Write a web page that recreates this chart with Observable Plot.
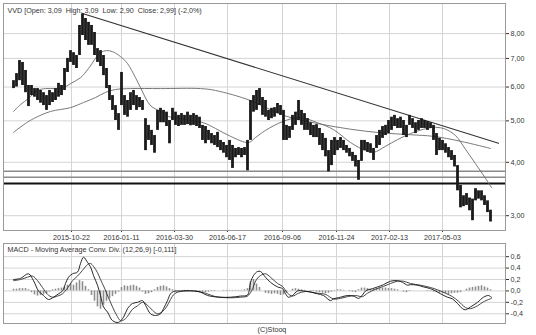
<!DOCTYPE html>
<html><head><meta charset="utf-8">
<script src="https://cdn.jsdelivr.net/npm/d3@7"></script>
<script src="https://cdn.jsdelivr.net/npm/@observablehq/plot@0.6"></script>
<style>
body{margin:0;background:#fff;font-family:"Liberation Sans",Arial,sans-serif}
#wrap{position:relative;width:536px;height:335px;overflow:hidden}
#main,#macd{position:absolute;left:0}
#main{top:0}
#macd{top:240px}
#copy{position:absolute;left:0;width:544px;text-align:center;top:325px;font-size:7.2px;color:#333}
</style></head><body>
<div id="wrap"><div id="main"></div><div id="macd"></div><div id="copy">(C)Stooq</div></div>
<script>
// trading-day index of the first bar and bar spacing (3 trading days per bar)
const T0 = 10, STEP = 3;
const hi = [6.21,6.45,6.92,6.85,6.56,6.05,6.05,5.95,5.95,5.89,5.82,5.73,5.89,5.82,5.95,6.12,6.05,6.63,7.00,7.30,
7.22,7.11,8.36,8.90,8.68,8.50,8.36,8.05,7.38,7.30,7.11,6.63,6.05,5.73,5.43,5.20,6.49,5.73,5.58,5.82,
5.89,5.73,5.67,5.58,5.06,4.88,4.75,4.62,5.29,5.35,5.29,5.24,5.01,5.35,5.24,5.15,5.20,5.15,5.24,5.15,
5.20,5.15,5.10,4.88,4.85,4.75,4.67,4.62,4.70,4.50,4.45,4.38,4.50,4.38,4.31,4.33,4.31,4.33,4.50,5.58,
5.73,5.89,5.95,5.67,5.58,5.29,5.35,5.37,5.49,5.43,5.29,4.88,4.85,5.15,5.24,5.58,5.29,5.20,5.06,4.95,
4.88,4.90,4.80,4.67,4.55,4.26,4.50,4.57,4.50,4.57,4.50,4.38,4.31,4.22,4.15,4.04,4.50,4.50,4.45,4.42,
4.31,4.62,4.75,4.85,4.88,5.01,5.10,5.15,5.06,5.10,5.01,4.88,5.15,5.06,4.95,5.01,5.06,5.01,4.98,4.95,
4.88,4.67,4.55,4.50,4.42,4.33,4.26,4.15,3.93,3.53,3.34,3.38,3.30,3.28,3.47,3.43,3.43,3.34,3.25,3.09];
const lo = [5.95,6.00,6.21,6.05,5.82,5.40,5.73,5.68,5.58,5.50,5.43,5.29,5.43,5.52,5.58,5.68,5.73,5.89,6.49,6.85,
6.74,6.63,7.11,7.92,7.71,7.51,7.51,7.11,6.85,6.70,6.38,5.95,5.58,5.29,5.01,4.75,5.43,5.15,5.10,5.29,
5.43,5.29,5.37,5.29,4.26,4.50,4.38,4.20,4.75,4.95,4.95,4.85,4.42,5.01,4.88,4.85,4.88,4.88,4.90,4.87,
4.88,4.85,4.80,4.50,4.42,4.50,4.42,4.38,4.33,4.26,4.20,4.10,4.04,3.87,4.10,4.15,4.10,4.15,3.82,4.50,
5.24,5.29,5.43,5.15,5.10,5.01,5.06,5.10,5.20,5.15,4.50,4.50,4.55,4.75,4.88,5.01,4.88,4.75,4.75,4.62,
4.57,4.57,4.38,4.26,4.12,3.80,3.93,4.15,4.26,4.31,4.26,4.20,4.12,4.02,3.90,3.63,4.02,4.26,4.22,4.20,
4.04,4.31,4.38,4.55,4.62,4.67,4.75,4.85,4.80,4.80,4.62,4.57,4.88,4.80,4.67,4.75,4.80,4.80,4.75,4.80,
4.50,4.15,4.26,4.26,4.20,4.10,4.04,3.90,3.43,3.13,3.15,3.17,3.08,2.92,3.25,3.28,3.25,3.17,3.05,2.90];
// moving averages
const ma50T = [10,17,25,34,42,52,60,67,77,85,92,97,103,109,117,124,132,137,147,157,165,177,187,200,212,227,245,252,262,280,297,314,330,347,362,370,382,394,407,420,432,442,452,462,472,482,488];
const ma50V = [5.26,5.46,5.64,5.89,5.95,5.95,5.98,6.11,6.31,6.63,7.00,7.22,7.30,7.26,7.07,6.81,6.31,5.98,5.43,5.26,5.12,5.06,5.01,4.95,4.80,4.60,4.45,4.57,4.75,4.99,5.09,4.95,4.77,4.45,4.26,4.22,4.36,4.52,4.67,4.78,4.83,4.78,4.62,4.29,3.97,3.67,3.49];
const ma200T = [10,22,30,47,67,80,92,102,112,127,157,197,212,247,280,314,347,377,407,430,457,487];
const ma200V = [4.70,4.93,5.06,5.26,5.37,5.52,5.67,5.83,5.92,5.95,5.95,5.95,5.89,5.58,5.15,4.93,4.78,4.69,4.64,4.60,4.48,4.31];
// trend line (two anchor points) and horizontal levels
const trendT = [79,495], trendV = [8.92,4.43];
const levels = [3.81,3.69,3.57];
const levelColors = ["#8a8a8a","#8a8a8a","#111"];
const levelWidths = [1.5,1.5,2];
// MACD
const macdT = [10,17,25,30,35,40,45,50,55,59,62,65,69,74,77,80,84,87,90,94,97,100,104,109,115,120,124,129,134,139,142,147,152,157,160,164,167,170,177,190,197,204,217,227,237,244,247,250,254,257,262,267,274,279,282,285,289,294,300,307,314,320,327,330,337,344,350,355,359,362,369,374,380,387,394,399,404,407,414,420,427,432,437,444,449,454,459,462,467,474,480,485,488];
const macdV = [0.20,0.22,0.30,0.18,0.00,-0.08,-0.15,-0.11,-0.05,0.00,0.13,0.24,0.30,0.33,0.48,0.59,0.50,0.42,0.27,0.10,-0.08,-0.28,-0.37,-0.52,-0.55,-0.46,-0.31,-0.22,-0.20,-0.17,-0.25,-0.40,-0.43,-0.40,-0.31,-0.17,-0.05,-0.01,0.00,0.00,-0.02,-0.08,-0.11,-0.11,-0.09,-0.07,0.15,0.27,0.34,0.34,0.24,0.15,0.07,0.04,-0.05,-0.11,-0.08,0.00,0.00,-0.02,-0.05,-0.08,-0.17,-0.14,-0.11,-0.08,-0.09,-0.13,-0.07,0.00,0.04,0.07,0.11,0.17,0.18,0.15,0.10,0.11,0.10,0.07,0.04,0.00,-0.05,-0.11,-0.14,-0.22,-0.31,-0.33,-0.28,-0.20,-0.11,-0.08,-0.111];
const sigT = [10,17,24,29,34,39,44,49,54,59,64,69,74,79,84,87,90,94,97,101,105,109,113,117,121,125,129,134,139,144,149,154,159,163,167,171,177,190,202,212,227,237,244,248,253,257,262,267,274,279,284,289,295,302,314,322,330,337,344,352,359,364,372,380,387,394,400,407,417,427,434,442,449,455,462,467,474,480,488];
const sigV = [0.18,0.20,0.24,0.26,0.18,0.06,-0.06,-0.11,-0.09,-0.05,0.05,0.18,0.26,0.36,0.46,0.48,0.43,0.32,0.20,0.05,-0.12,-0.28,-0.42,-0.52,-0.50,-0.42,-0.32,-0.26,-0.20,-0.25,-0.34,-0.40,-0.36,-0.28,-0.15,-0.05,-0.01,0.00,-0.04,-0.10,-0.12,-0.11,-0.09,0.00,0.20,0.27,0.30,0.24,0.13,0.08,-0.04,-0.09,-0.04,-0.01,-0.04,-0.06,-0.14,-0.13,-0.10,-0.08,-0.10,-0.04,0.03,0.08,0.13,0.17,0.17,0.13,0.10,0.06,0.02,-0.04,-0.10,-0.18,-0.29,-0.31,-0.26,-0.19,-0.13];
const hist = [0.03,0.03,0.04,0.04,0.04,0.02,-0.03,-0.07,-0.09,-0.08,-0.07,-0.05,-0.02,0.02,0.03,0.04,0.05,0.07,0.10,0.12,
0.10,0.14,0.18,0.16,0.08,0.02,-0.08,-0.18,-0.28,-0.32,-0.25,-0.18,-0.14,-0.10,-0.06,-0.02,0.06,0.09,0.08,0.09,
0.10,0.08,0.05,-0.02,-0.06,-0.05,-0.03,0.02,0.06,0.08,0.09,0.07,0.04,0.02,0.01,0.00,0.00,0.01,0.01,0.00,
0.00,-0.01,-0.02,-0.03,-0.03,-0.02,-0.01,-0.01,0.00,0.00,0.01,0.01,0.01,0.01,0.01,0.01,0.01,0.02,0.04,0.16,
0.20,0.12,0.06,0.00,-0.04,-0.05,-0.06,-0.05,-0.06,-0.08,-0.07,-0.04,0.00,0.03,0.04,0.03,0.02,0.01,0.00,-0.01,
-0.01,-0.02,-0.03,-0.04,-0.05,-0.04,-0.02,0.01,0.02,0.02,0.01,0.00,-0.01,-0.02,-0.03,0.02,0.05,0.05,0.04,0.03,
0.03,0.04,0.05,0.05,0.05,0.04,0.04,0.03,0.02,0.00,-0.02,-0.03,-0.01,0.00,0.00,0.00,0.00,0.00,-0.01,-0.01,
-0.02,-0.03,-0.04,-0.05,-0.05,-0.06,-0.05,-0.04,-0.04,-0.03,0.00,0.03,0.05,0.06,0.07,0.08,0.09,0.07,0.05,0.02];
// axes
const dateTicks = [68,118,171,224,279,333,386,439];
const dateLabels = ["2015-10-22","2016-01-11","2016-03-30","2016-06-17","2016-09-06","2016-11-24","2017-02-13","2017-05-03"];
const priceTicks = [3,4,5,6,7,8];
const macdTicks = [-0.4,-0.2,0,0.2,0.4,0.6];
const mainTitle = "VVD [Open: 3,09  High: 3,09  Low: 2,90  Close: 2,99] (-2,0%)";
const macdTitle = "MACD - Moving Average Conv. Div. (12,26,9) [-0,111]";
const xDomain = [0,502];

const bars = hi.map((h,i)=>({t:T0+STEP*i, hi:h, lo:lo[i], h:hist[i]}));
const ma50 = ma50T.map((t,i)=>({t, v:ma50V[i]}));
const ma200 = ma200T.map((t,i)=>({t, v:ma200V[i]}));
const trend = trendT.map((t,i)=>({t, v:trendV[i]}));
const macd = macdT.map((t,i)=>({t, v:macdV[i]}));
const sig = sigT.map((t,i)=>({t, v:sigV[i]}));
const lv = levels.map((v,i)=>({v, c:levelColors[i], w:levelWidths[i]}));
const font = {fontSize:"7.2px", fontFamily:"'Liberation Sans',Arial,sans-serif", color:"#333", background:"#fff", overflow:"visible"};

const main = Plot.plot({
  width:536, height:245, marginLeft:3, marginRight:31, marginTop:3, marginBottom:15,
  style: font,
  x:{type:"linear", domain:xDomain, ticks:dateTicks, tickFormat:d=>dateLabels[dateTicks.indexOf(d)], tickSize:2, tickPadding:2, label:null},
  y:{type:"log", domain:[2.77,9.41], axis:"right", ticks:priceTicks, tickFormat:d=>d.toFixed(2).replace(".",","), tickSize:3, tickPadding:2, label:null},
  marks:[
    Plot.gridX(dateTicks,{stroke:"#d4d4d4", strokeOpacity:1}),
    Plot.gridY(priceTicks,{stroke:"#d4d4d4", strokeOpacity:1}),
    Plot.ruleY(lv,{y:"v", stroke:"c", strokeWidth:"w"}),
    Plot.line(ma200,{x:"t", y:"v", stroke:"#6a6a6a", strokeWidth:0.9, curve:"catmull-rom"}),
    Plot.line(ma50,{x:"t", y:"v", stroke:"#6a6a6a", strokeWidth:0.9, curve:"catmull-rom"}),
    Plot.line(trend,{x:"t", y:"v", stroke:"#333", strokeWidth:1.1}),
    Plot.ruleX(bars,{x:"t", y1:"lo", y2:"hi", stroke:"#1a1a1a", strokeWidth:2.8}),
    Plot.frame({stroke:"#999"}),
    Plot.text([mainTitle],{frameAnchor:"top-left", dx:4, dy:4, fill:"#333", fontSize:7.2})
  ]
});
document.getElementById("main").appendChild(main);

const m = Plot.plot({
  width:536, height:95, marginLeft:3, marginRight:31, marginTop:3, marginBottom:12,
  style: font,
  x:{type:"linear", domain:xDomain, axis:null},
  y:{type:"linear", domain:[-0.57,0.83], axis:"right", ticks:macdTicks, tickFormat:d=>d.toFixed(1).replace(".",","), tickSize:3, tickPadding:2, label:null},
  marks:[
    Plot.gridX(dateTicks,{stroke:"#d4d4d4", strokeOpacity:1}),
    Plot.gridY(macdTicks,{stroke:"#d4d4d4", strokeOpacity:1}),
    Plot.ruleX(bars,{x:"t", y1:0, y2:"h", stroke:"#8c8c8c", strokeWidth:1.6}),
    Plot.line(sig,{x:"t", y:"v", stroke:"#333", strokeWidth:0.9, curve:"catmull-rom"}),
    Plot.line(macd,{x:"t", y:"v", stroke:"#111", strokeWidth:0.9, curve:"catmull-rom"}),
    Plot.frame({stroke:"#999"}),
    Plot.text([macdTitle],{frameAnchor:"top-left", dx:4, dy:3, fill:"#333", fontSize:7.2})
  ]
});
document.getElementById("macd").appendChild(m);
</script>
</body></html>
